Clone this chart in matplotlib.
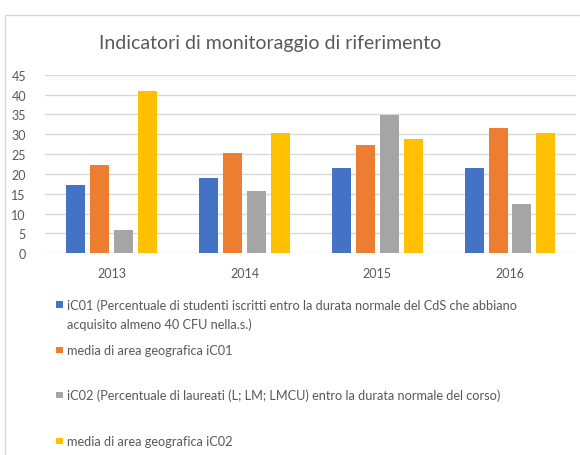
import matplotlib
matplotlib.use("Agg")
import matplotlib.pyplot as plt
from matplotlib.patches import Rectangle
import numpy as np

plt.rcParams['font.family'] = ['Lato', 'DejaVu Sans']

years = ["2013", "2014", "2015", "2016"]
ic01 = [17.2, 19.0, 21.4, 21.4]
media_ic01 = [22.3, 25.3, 27.2, 31.6]
ic02 = [5.9, 15.8, 34.8, 12.3]
media_ic02 = [40.8, 30.3, 28.8, 30.3]
series_labels = [
    "iC01 (Percentuale di studenti iscritti entro la durata normale del CdS che abbiano",
    "media di area geografica iC01",
    "iC02 (Percentuale di laureati (L; LM; LMCU) entro la durata normale del corso)",
    "media di area geografica iC02",
]
label_continuation = ["acquisito almeno 40 CFU nella.s.)", "", "", ""]
title = "Indicatori di monitoraggio di riferimento"
yticks = [0, 5, 10, 15, 20, 25, 30, 35, 40, 45]

colors = ["#4472C4", "#ED7D31", "#A5A5A5", "#FFC000"]
text_color = "#595959"

W, H = 580, 456
fig = plt.figure(figsize=(W / 100, H / 100), dpi=100)

# outer chart border
fig.patches.append(Rectangle((5 / W, -0.1), 1.2, (H - 16) / H + 0.1, transform=fig.transFigure,
                             fill=False, edgecolor="#d9d9d9", linewidth=1.0))

ax = fig.add_axes([45.4 / W, (H - 254.3) / H, 531 / W, (254.3 - 75.7) / H])
series = [ic01, media_ic01, ic02, media_ic02]
x = np.arange(len(years))
step = 0.18
bw = 0.143
for i, (vals, c) in enumerate(zip(series, colors)):
    ax.bar(x + (i - 1.5) * step, vals, width=bw, color=c, zorder=3)

ax.set_xlim(-0.5, len(years) - 0.5)
ax.set_ylim(0, 45)
ax.set_yticks(yticks)
ax.set_yticklabels([str(t) for t in yticks])
ax.set_xticks(x)
ax.set_xticklabels(years)
ax.tick_params(axis='both', length=0, labelsize=9, colors=text_color)
ax.tick_params(axis='y', pad=14)
ax.tick_params(axis='x', pad=10)
ax.grid(axis='y', color="#d9d9d9", linewidth=1.0, zorder=0)
for s in ax.spines.values():
    s.set_visible(False)

fig.text(270 / W, (H - 43) / H, title, ha='center', va='center', fontsize=14, color=text_color)

# legend, manual layout
leg_y = [305.5, 351, 396, 442]
for lab, cont, c, yy in zip(series_labels, label_continuation, colors, leg_y):
    fig.patches.append(Rectangle((56 / W, (H - yy - 3.3) / H), 6.6 / W, 6.6 / H,
                                 transform=fig.transFigure, facecolor=c, edgecolor='none'))
    fig.text(67 / W, (H - yy) / H, lab, ha='left', va='center',
             fontsize=9.2, color=text_color)
    if cont:
        fig.text(67 / W, (H - yy - 19) / H, cont, ha='left', va='center',
                 fontsize=9.2, color=text_color)

fig.savefig("out.png", dpi=100)
